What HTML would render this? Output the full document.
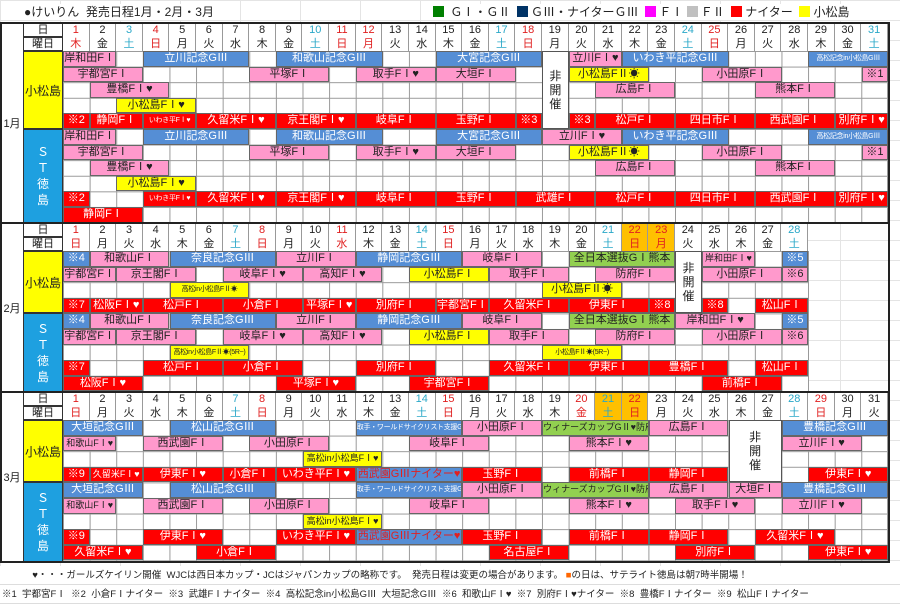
<!DOCTYPE html>
<html><head><meta charset="utf-8">
<style>
*{margin:0;padding:0}
body{width:900px;height:611px;position:relative;background:#fff;overflow:hidden;font-family:"Liberation Sans","Noto Sans CJK JP",sans-serif;color:#222}
.bg{position:absolute;left:0;top:0;width:900px;height:611px;background-image:linear-gradient(to right,#e4e4e4 1px,transparent 1px),linear-gradient(to bottom,#e4e4e4 1px,transparent 1px);background-size:60px 20px}
.grid{position:absolute;background-color:#fff;background-image:linear-gradient(to right,#999 1px,transparent 1px),linear-gradient(to bottom,#999 1px,transparent 1px);background-size:26.62px 15.6px;border-right:1px solid #999;border-bottom:1px solid #999;box-sizing:border-box}
.b{position:absolute;height:15.6px;box-sizing:border-box;border:1px solid #666;font-size:11px;line-height:13.6px;text-align:center;white-space:nowrap;overflow:hidden}
.p{background:#ff99cc;color:#222}
.u{background:#558ed5;color:#fff}
.r{background:#ff0000;color:#fff}
.y{background:#ffff00;color:#222}
.g{background:#92d050;color:#222}
.w{background:#fff}
.s{font-size:7px;letter-spacing:-0.3px}
.s9{font-size:9px}
.hd{position:absolute;left:63px;height:14px;display:flex;font-size:11px;line-height:14px;background:#fff}
.hd span{width:26.62px;flex:none;text-align:center;box-sizing:border-box;border-right:1px solid #999}
.R{color:#e02020}.B{color:#2aa8c8}.O{background:#ffc000}
.lab{position:absolute;left:23px;width:40px;font-size:11px;text-align:center;background:#fff;box-sizing:border-box;border:1px solid #333;height:14px;line-height:13px}
.ven{position:absolute;left:23px;width:40px;box-sizing:border-box;border:1px solid #333;display:flex;align-items:center;justify-content:center;font-size:12px;text-align:center}
.ko{background:#ffff00;color:#222}
.st{background:#1ea0e0;color:#fff;line-height:16px;font-size:12px}
.mon{position:absolute;left:0;width:23px;font-size:11px;text-align:center;border:1px solid #333;box-sizing:border-box;border-right:none;background:#fff;display:flex;align-items:center;justify-content:center}
.nk{position:absolute;background:#fff;border:1px solid #555;box-sizing:border-box;font-size:12px;line-height:14px;display:flex;align-items:center;justify-content:center;text-align:center}
.frame{position:absolute;border:2px solid #222;box-sizing:border-box;pointer-events:none}
.leg{position:absolute;top:4px;font-size:12px;line-height:16px;white-space:nowrap}
.sq{display:inline-block;width:11px;height:11px;vertical-align:-1px;margin-right:3px}
</style></head><body>
<div class="bg"></div>

<div style="position:absolute;left:24px;top:4px;font-size:12px;line-height:16px;background:#fff">●けいりん&nbsp; 発売日程1月・2月・3月</div>
<div class="leg" style="left:433px;background:#fff;width:450px"><span class="sq" style="background:#008000"></span>&nbsp;ＧⅠ・ＧⅡ&nbsp;&nbsp;<span class="sq" style="background:#003366"></span>ＧⅢ・ナイターＧⅢ&nbsp;&nbsp;<span class="sq" style="background:#ff00ff"></span>ＦⅠ <span class="sq" style="background:#c0c0c0"></span>ＦⅡ&nbsp;&nbsp;<span class="sq" style="background:#ff0000"></span>ナイター&nbsp;&nbsp;<span class="sq" style="background:#ffff00"></span>小松島</div>

<!-- ===== JANUARY ===== -->
<div class="mon" style="top:23px;height:200px">1月</div>
<div class="lab" style="top:23px">日</div>
<div class="lab" style="top:37px">曜日</div>
<div class="hd" style="top:23px"><span class="R">1</span><span>2</span><span class="B">3</span><span class="R">4</span><span>5</span><span>6</span><span>7</span><span>8</span><span>9</span><span class="B">10</span><span class="R">11</span><span class="R">12</span><span>13</span><span>14</span><span>15</span><span>16</span><span class="B">17</span><span class="R">18</span><span>19</span><span>20</span><span>21</span><span>22</span><span>23</span><span class="B">24</span><span class="R">25</span><span>26</span><span>27</span><span>28</span><span>29</span><span>30</span><span class="B">31</span></div>
<div class="hd" style="top:37px"><span class="R">木</span><span>金</span><span class="B">土</span><span class="R">日</span><span>月</span><span>火</span><span>水</span><span>木</span><span>金</span><span class="B">土</span><span class="R">日</span><span class="R">月</span><span>火</span><span>水</span><span>木</span><span>金</span><span class="B">土</span><span class="R">日</span><span>月</span><span>火</span><span>水</span><span>木</span><span>金</span><span class="B">土</span><span class="R">日</span><span>月</span><span>火</span><span>水</span><span>木</span><span>金</span><span class="B">土</span></div>
<div class="ven ko" style="top:51px;height:78px">小松島</div>
<div class="ven st" style="top:129px;height:94px">Ｓ<br>Ｔ<br>徳<br>島</div>
<div class="grid" style="left:63px;top:51px;width:825.3px;height:172px"></div>

<div class="b p" style="left:63px;top:51px;width:53.3px">岸和田FⅠ</div>
<div class="b u" style="left:142.9px;top:51px;width:106.5px">立川記念GⅢ</div>
<div class="b u" style="left:276px;top:51px;width:106.5px">和歌山記念GⅢ</div>
<div class="b u" style="left:435.7px;top:51px;width:106.5px">大宮記念GⅢ</div>
<div class="b p" style="left:568.8px;top:51px;width:53.3px">立川FⅠ♥</div>
<div class="b u" style="left:622px;top:51px;width:106.5px">いわき平記念GⅢ</div>
<div class="b u s" style="left:808.3px;top:51px;width:79.9px">高松記念in小松島GⅢ</div>
<div class="b p" style="left:63px;top:66.6px;width:79.9px">宇都宮FⅠ</div>
<div class="b p" style="left:249.3px;top:66.6px;width:79.9px">平塚FⅠ</div>
<div class="b p" style="left:355.8px;top:66.6px;width:79.9px">取手FⅠ♥</div>
<div class="b p" style="left:435.7px;top:66.6px;width:79.9px">大垣FⅠ</div>
<div class="b y" style="left:568.8px;top:66.6px;width:79.9px">小松島FⅡ☀</div>
<div class="b p" style="left:701.8px;top:66.6px;width:79.9px">小田原FⅠ</div>
<div class="b p" style="left:861.6px;top:66.6px;width:26.6px">※1</div>
<div class="b p" style="left:89.6px;top:82.2px;width:79.9px">豊橋FⅠ♥</div>
<div class="b p" style="left:595.4px;top:82.2px;width:79.9px">広島FⅠ</div>
<div class="b p" style="left:755px;top:82.2px;width:79.9px">熊本FⅠ</div>
<div class="b y" style="left:116.2px;top:97.8px;width:79.9px">小松島FⅠ♥</div>
<div class="b r" style="left:63px;top:113.4px;width:26.6px">※2</div>
<div class="b r" style="left:89.6px;top:113.4px;width:53.3px">静岡FⅠ</div>
<div class="b r s" style="left:142.9px;top:113.4px;width:53.3px">いわき平FⅠ♥</div>
<div class="b r" style="left:196.1px;top:113.4px;width:79.9px">久留米FⅠ♥</div>
<div class="b r" style="left:276px;top:113.4px;width:79.9px">京王閣FⅠ♥</div>
<div class="b r" style="left:355.8px;top:113.4px;width:79.9px">岐阜FⅠ</div>
<div class="b r" style="left:435.7px;top:113.4px;width:79.9px">玉野FⅠ</div>
<div class="b r" style="left:515.5px;top:113.4px;width:26.6px">※3</div>
<div class="b r" style="left:568.8px;top:113.4px;width:26.6px">※3</div>
<div class="b r" style="left:595.4px;top:113.4px;width:79.9px">松戸FⅠ</div>
<div class="b r" style="left:675.2px;top:113.4px;width:79.9px">四日市FⅠ</div>
<div class="b r" style="left:755px;top:113.4px;width:79.9px">西武園FⅠ</div>
<div class="b r" style="left:835px;top:113.4px;width:53.3px">別府FⅠ♥</div>
<div class="nk" style="left:542.1px;top:51px;width:26.7px;height:78px">非<br>開<br>催</div>

<div class="b p" style="left:63px;top:129px;width:53.3px">岸和田FⅠ</div>
<div class="b u" style="left:142.9px;top:129px;width:106.5px">立川記念GⅢ</div>
<div class="b u" style="left:276px;top:129px;width:106.5px">和歌山記念GⅢ</div>
<div class="b u" style="left:435.7px;top:129px;width:106.5px">大宮記念GⅢ</div>
<div class="b p" style="left:542.1px;top:129px;width:79.9px">立川FⅠ♥</div>
<div class="b u" style="left:622px;top:129px;width:106.5px">いわき平記念GⅢ</div>
<div class="b u s" style="left:808.3px;top:129px;width:79.9px">高松記念in小松島GⅢ</div>
<div class="b p" style="left:63px;top:144.6px;width:79.9px">宇都宮FⅠ</div>
<div class="b p" style="left:249.3px;top:144.6px;width:79.9px">平塚FⅠ</div>
<div class="b p" style="left:355.8px;top:144.6px;width:79.9px">取手FⅠ♥</div>
<div class="b p" style="left:435.7px;top:144.6px;width:79.9px">大垣FⅠ</div>
<div class="b y" style="left:568.8px;top:144.6px;width:79.9px">小松島FⅡ☀</div>
<div class="b p" style="left:701.8px;top:144.6px;width:79.9px">小田原FⅠ</div>
<div class="b p" style="left:861.6px;top:144.6px;width:26.6px">※1</div>
<div class="b p" style="left:89.6px;top:160.2px;width:79.9px">豊橋FⅠ♥</div>
<div class="b p" style="left:595.4px;top:160.2px;width:79.9px">広島FⅠ</div>
<div class="b p" style="left:755px;top:160.2px;width:79.9px">熊本FⅠ</div>
<div class="b y" style="left:116.2px;top:175.8px;width:79.9px">小松島FⅠ♥</div>
<div class="b r" style="left:63px;top:191.4px;width:26.6px">※2</div>
<div class="b r s" style="left:142.9px;top:191.4px;width:53.3px">いわき平FⅠ♥</div>
<div class="b r" style="left:196.1px;top:191.4px;width:79.9px">久留米FⅠ♥</div>
<div class="b r" style="left:276px;top:191.4px;width:79.9px">京王閣FⅠ♥</div>
<div class="b r" style="left:355.8px;top:191.4px;width:79.9px">岐阜FⅠ</div>
<div class="b r" style="left:435.7px;top:191.4px;width:79.9px">玉野FⅠ</div>
<div class="b r" style="left:515.5px;top:191.4px;width:79.9px">武雄FⅠ</div>
<div class="b r" style="left:595.4px;top:191.4px;width:79.9px">松戸FⅠ</div>
<div class="b r" style="left:675.2px;top:191.4px;width:79.9px">四日市FⅠ</div>
<div class="b r" style="left:755px;top:191.4px;width:79.9px">西武園FⅠ</div>
<div class="b r" style="left:835px;top:191.4px;width:53.3px">別府FⅠ♥</div>
<div class="b r" style="left:63px;top:207px;width:79.9px">静岡FⅠ</div>
<div class="frame" style="left:0;top:22px;width:890px;height:202px"></div>

<!-- ===== FEBRUARY ===== -->
<div class="mon" style="top:223px;height:169px">2月</div>
<div class="lab" style="top:223px">日</div>
<div class="lab" style="top:237px">曜日</div>
<div class="hd" style="top:223px"><span class="R">1</span><span>2</span><span>3</span><span>4</span><span>5</span><span>6</span><span class="B">7</span><span class="R">8</span><span>9</span><span>10</span><span class="R">11</span><span>12</span><span>13</span><span class="B">14</span><span class="R">15</span><span>16</span><span>17</span><span>18</span><span>19</span><span>20</span><span class="B">21</span><span class="R O">22</span><span class="R O">23</span><span>24</span><span>25</span><span>26</span><span>27</span><span class="B">28</span></div>
<div class="hd" style="top:237px"><span class="R">日</span><span>月</span><span>火</span><span>水</span><span>木</span><span>金</span><span class="B">土</span><span class="R">日</span><span>月</span><span>火</span><span class="R">水</span><span>木</span><span>金</span><span class="B">土</span><span class="R">日</span><span>月</span><span>火</span><span>水</span><span>木</span><span>金</span><span class="B">土</span><span class="R O">日</span><span class="R O">月</span><span>火</span><span>水</span><span>木</span><span>金</span><span class="B">土</span></div>
<div class="ven ko" style="top:251px;height:62.4px">小松島</div>
<div class="ven st" style="top:313.4px;height:78.6px">Ｓ<br>Ｔ<br>徳<br>島</div>
<div class="grid" style="left:63px;top:251px;width:746.3px;height:141px"></div>

<div class="b u" style="left:63px;top:251px;width:26.6px">※4</div>
<div class="b p" style="left:89.6px;top:251px;width:79.9px">和歌山FⅠ</div>
<div class="b u" style="left:169.5px;top:251px;width:106.5px">奈良記念GⅢ</div>
<div class="b p" style="left:276px;top:251px;width:79.9px">立川FⅠ</div>
<div class="b u" style="left:355.8px;top:251px;width:106.5px">静岡記念GⅢ</div>
<div class="b p" style="left:462.3px;top:251px;width:79.9px">岐阜FⅠ</div>
<div class="b g" style="left:568.8px;top:251px;width:106.5px">全日本選抜GⅠ熊本</div>
<div class="b p s9" style="left:701.8px;top:251px;width:53.3px">岸和田FⅠ♥</div>
<div class="b u" style="left:781.7px;top:251px;width:26.6px">※5</div>
<div class="b p" style="left:63px;top:266.6px;width:53.3px">宇都宮FⅠ</div>
<div class="b p" style="left:116.2px;top:266.6px;width:79.9px">京王閣FⅠ</div>
<div class="b p" style="left:222.7px;top:266.6px;width:79.9px">岐阜FⅠ♥</div>
<div class="b p" style="left:302.6px;top:266.6px;width:79.9px">高知FⅠ♥</div>
<div class="b y" style="left:409px;top:266.6px;width:79.9px">小松島FⅠ</div>
<div class="b p" style="left:488.9px;top:266.6px;width:79.9px">取手FⅠ</div>
<div class="b p" style="left:595.4px;top:266.6px;width:79.9px">防府FⅠ</div>
<div class="b p" style="left:701.8px;top:266.6px;width:79.9px">小田原FⅠ</div>
<div class="b p" style="left:781.7px;top:266.6px;width:26.6px">※6</div>
<div class="b y s" style="left:169.5px;top:282.2px;width:79.9px">高松in小松島FⅡ☀</div>
<div class="b y" style="left:542.1px;top:282.2px;width:79.9px">小松島FⅡ☀</div>
<div class="b r" style="left:63px;top:297.8px;width:26.6px">※7</div>
<div class="b r" style="left:89.6px;top:297.8px;width:53.3px">松阪FⅠ♥</div>
<div class="b r" style="left:142.9px;top:297.8px;width:79.9px">松戸FⅠ</div>
<div class="b r" style="left:222.7px;top:297.8px;width:79.9px">小倉FⅠ</div>
<div class="b r" style="left:302.6px;top:297.8px;width:53.3px">平塚FⅠ♥</div>
<div class="b r" style="left:355.8px;top:297.8px;width:79.9px">別府FⅠ</div>
<div class="b r" style="left:435.7px;top:297.8px;width:53.3px">宇都宮FⅠ</div>
<div class="b r" style="left:488.9px;top:297.8px;width:79.9px">久留米FⅠ</div>
<div class="b r" style="left:568.8px;top:297.8px;width:79.9px">伊東FⅠ</div>
<div class="b r" style="left:648.6px;top:297.8px;width:26.6px">※8</div>
<div class="b r" style="left:701.8px;top:297.8px;width:26.6px">※8</div>
<div class="b r" style="left:755px;top:297.8px;width:53.3px">松山FⅠ</div>
<div class="nk" style="left:675.2px;top:251px;width:26.7px;height:62.4px">非<br>開<br>催</div>

<div class="b u" style="left:63px;top:313.4px;width:26.6px">※4</div>
<div class="b p" style="left:89.6px;top:313.4px;width:79.9px">和歌山FⅠ</div>
<div class="b u" style="left:169.5px;top:313.4px;width:106.5px">奈良記念GⅢ</div>
<div class="b p" style="left:276px;top:313.4px;width:79.9px">立川FⅠ</div>
<div class="b u" style="left:355.8px;top:313.4px;width:106.5px">静岡記念GⅢ</div>
<div class="b p" style="left:462.3px;top:313.4px;width:79.9px">岐阜FⅠ</div>
<div class="b g" style="left:568.8px;top:313.4px;width:106.5px">全日本選抜GⅠ熊本</div>
<div class="b p" style="left:675.2px;top:313.4px;width:79.9px">岸和田FⅠ♥</div>
<div class="b u" style="left:781.7px;top:313.4px;width:26.6px">※5</div>
<div class="b p" style="left:63px;top:329px;width:53.3px">宇都宮FⅠ</div>
<div class="b p" style="left:116.2px;top:329px;width:79.9px">京王閣FⅠ</div>
<div class="b p" style="left:222.7px;top:329px;width:79.9px">岐阜FⅠ♥</div>
<div class="b p" style="left:302.6px;top:329px;width:79.9px">高知FⅠ♥</div>
<div class="b y" style="left:409px;top:329px;width:79.9px">小松島FⅠ</div>
<div class="b p" style="left:488.9px;top:329px;width:79.9px">取手FⅠ</div>
<div class="b p" style="left:595.4px;top:329px;width:79.9px">防府FⅠ</div>
<div class="b p" style="left:701.8px;top:329px;width:79.9px">小田原FⅠ</div>
<div class="b p" style="left:781.7px;top:329px;width:26.6px">※6</div>
<div class="b y s" style="left:169.5px;top:344.6px;width:79.9px">高松in小松島FⅡ☀(5R~)</div>
<div class="b y s" style="left:542.1px;top:344.6px;width:79.9px">小松島FⅡ☀(5R~)</div>
<div class="b r" style="left:63px;top:360.2px;width:26.6px">※7</div>
<div class="b r" style="left:142.9px;top:360.2px;width:79.9px">松戸FⅠ</div>
<div class="b r" style="left:222.7px;top:360.2px;width:79.9px">小倉FⅠ</div>
<div class="b r" style="left:355.8px;top:360.2px;width:79.9px">別府FⅠ</div>
<div class="b r" style="left:488.9px;top:360.2px;width:79.9px">久留米FⅠ</div>
<div class="b r" style="left:568.8px;top:360.2px;width:79.9px">伊東FⅠ</div>
<div class="b r" style="left:648.6px;top:360.2px;width:79.9px">豊橋FⅠ</div>
<div class="b r" style="left:755px;top:360.2px;width:53.3px">松山FⅠ</div>
<div class="b r" style="left:63px;top:375.8px;width:79.9px">松阪FⅠ♥</div>
<div class="b r" style="left:276px;top:375.8px;width:79.9px">平塚FⅠ♥</div>
<div class="b r" style="left:409px;top:375.8px;width:79.9px">宇都宮FⅠ</div>
<div class="b r" style="left:701.8px;top:375.8px;width:79.9px">前橋FⅠ</div>
<div class="frame" style="left:0;top:222px;width:890px;height:171px"></div>

<!-- ===== MARCH ===== -->
<div class="mon" style="top:392px;height:170px">3月</div>
<div class="lab" style="top:392px">日</div>
<div class="lab" style="top:406px">曜日</div>
<div class="hd" style="top:392px"><span class="R">1</span><span>2</span><span>3</span><span>4</span><span>5</span><span>6</span><span class="B">7</span><span class="R">8</span><span>9</span><span>10</span><span>11</span><span>12</span><span>13</span><span class="B">14</span><span class="R">15</span><span>16</span><span>17</span><span>18</span><span>19</span><span class="R">20</span><span class="B O">21</span><span class="R O">22</span><span>23</span><span>24</span><span>25</span><span>26</span><span>27</span><span class="B">28</span><span class="R">29</span><span>30</span><span>31</span></div>
<div class="hd" style="top:406px"><span class="R">日</span><span>月</span><span>火</span><span>水</span><span>木</span><span>金</span><span class="B">土</span><span class="R">日</span><span>月</span><span>火</span><span>水</span><span>木</span><span>金</span><span class="B">土</span><span class="R">日</span><span>月</span><span>火</span><span>水</span><span>木</span><span class="R">金</span><span class="B O">土</span><span class="R O">日</span><span>月</span><span>火</span><span>水</span><span>木</span><span>金</span><span class="B">土</span><span class="R">日</span><span>月</span><span>火</span></div>
<div class="ven ko" style="top:420px;height:62.4px">小松島</div>
<div class="ven st" style="top:482.4px;height:79.6px">Ｓ<br>Ｔ<br>徳<br>島</div>
<div class="grid" style="left:63px;top:420px;width:825.3px;height:142px"></div>

<div class="b u" style="left:63px;top:420px;width:79.9px">大垣記念GⅢ</div>
<div class="b u" style="left:169.5px;top:420px;width:106.5px">松山記念GⅢ</div>
<div class="b u s" style="left:355.8px;top:420px;width:106.5px">取手・ワールドサイクリスト支援GⅢ</div>
<div class="b p" style="left:462.3px;top:420px;width:79.9px">小田原FⅠ</div>
<div class="b g s9" style="left:542.1px;top:420px;width:106.5px">ウィナーズカップGⅡ♥防府</div>
<div class="b p" style="left:648.6px;top:420px;width:79.9px">広島FⅠ</div>
<div class="b u" style="left:781.7px;top:420px;width:106.5px">豊橋記念GⅢ</div>
<div class="b p s9" style="left:63px;top:435.6px;width:53.3px">和歌山FⅠ♥</div>
<div class="b p" style="left:142.9px;top:435.6px;width:79.9px">西武園FⅠ</div>
<div class="b p" style="left:249.3px;top:435.6px;width:79.9px">小田原FⅠ</div>
<div class="b p" style="left:409px;top:435.6px;width:79.9px">岐阜FⅠ</div>
<div class="b p" style="left:568.8px;top:435.6px;width:79.9px">熊本FⅠ♥</div>
<div class="b p" style="left:781.7px;top:435.6px;width:79.9px">立川FⅠ♥</div>
<div class="b y s9" style="left:302.6px;top:451.2px;width:79.9px">高松in小松島FⅠ♥</div>
<div class="b r" style="left:63px;top:466.8px;width:26.6px">※9</div>
<div class="b r s9" style="left:89.6px;top:466.8px;width:53.3px">久留米FⅠ♥</div>
<div class="b r" style="left:142.9px;top:466.8px;width:79.9px">伊東FⅠ♥</div>
<div class="b r" style="left:222.7px;top:466.8px;width:53.3px">小倉FⅠ</div>
<div class="b r" style="left:276px;top:466.8px;width:79.9px">いわき平FⅠ♥</div>
<div class="b u" style="left:355.8px;top:466.8px;width:106.5px;color:#e02020">西武園GⅢナイター♥</div>
<div class="b r" style="left:462.3px;top:466.8px;width:79.9px">玉野FⅠ</div>
<div class="b r" style="left:568.8px;top:466.8px;width:79.9px">前橋FⅠ</div>
<div class="b r" style="left:648.6px;top:466.8px;width:79.9px">静岡FⅠ</div>
<div class="b r" style="left:808.3px;top:466.8px;width:79.9px">伊東FⅠ♥</div>
<div class="nk" style="left:728.5px;top:420px;width:53.2px;height:62.4px">非<br>開<br>催</div>

<div class="b u" style="left:63px;top:482.4px;width:79.9px">大垣記念GⅢ</div>
<div class="b u" style="left:169.5px;top:482.4px;width:106.5px">松山記念GⅢ</div>
<div class="b u s" style="left:355.8px;top:482.4px;width:106.5px">取手・ワールドサイクリスト支援GⅢ</div>
<div class="b p" style="left:462.3px;top:482.4px;width:79.9px">小田原FⅠ</div>
<div class="b g s9" style="left:542.1px;top:482.4px;width:106.5px">ウィナーズカップGⅡ♥防府</div>
<div class="b p" style="left:648.6px;top:482.4px;width:79.9px">広島FⅠ</div>
<div class="b p" style="left:728.5px;top:482.4px;width:53.3px">大垣FⅠ</div>
<div class="b u" style="left:781.7px;top:482.4px;width:106.5px">豊橋記念GⅢ</div>
<div class="b p s9" style="left:63px;top:498px;width:53.3px">和歌山FⅠ♥</div>
<div class="b p" style="left:142.9px;top:498px;width:79.9px">西武園FⅠ</div>
<div class="b p" style="left:249.3px;top:498px;width:79.9px">小田原FⅠ</div>
<div class="b p" style="left:409px;top:498px;width:79.9px">岐阜FⅠ</div>
<div class="b p" style="left:568.8px;top:498px;width:79.9px">熊本FⅠ♥</div>
<div class="b p" style="left:675.2px;top:498px;width:79.9px">取手FⅠ♥</div>
<div class="b p" style="left:781.7px;top:498px;width:79.9px">立川FⅠ♥</div>
<div class="b y s9" style="left:302.6px;top:513.6px;width:79.9px">高松in小松島FⅠ♥</div>
<div class="b r" style="left:63px;top:529.2px;width:26.6px">※9</div>
<div class="b r" style="left:142.9px;top:529.2px;width:79.9px">伊東FⅠ♥</div>
<div class="b r" style="left:276px;top:529.2px;width:79.9px">いわき平FⅠ♥</div>
<div class="b u" style="left:355.8px;top:529.2px;width:106.5px;color:#e02020">西武園GⅢナイター♥</div>
<div class="b r" style="left:462.3px;top:529.2px;width:79.9px">玉野FⅠ</div>
<div class="b r" style="left:568.8px;top:529.2px;width:79.9px">前橋FⅠ</div>
<div class="b r" style="left:648.6px;top:529.2px;width:79.9px">静岡FⅠ</div>
<div class="b r" style="left:755px;top:529.2px;width:79.9px">久留米FⅠ♥</div>
<div class="b r" style="left:63px;top:544.8px;width:79.9px">久留米FⅠ♥</div>
<div class="b r" style="left:196.1px;top:544.8px;width:79.9px">小倉FⅠ</div>
<div class="b r" style="left:488.9px;top:544.8px;width:79.9px">名古屋FⅠ</div>
<div class="b r" style="left:675.2px;top:544.8px;width:79.9px">別府FⅠ</div>
<div class="b r" style="left:808.3px;top:544.8px;width:79.9px">伊東FⅠ♥</div>
<div class="frame" style="left:0;top:391px;width:890px;height:172px"></div>

<div style="position:absolute;left:0;top:566px;width:900px;height:45px;background:#fff"></div>
<div style="position:absolute;left:30px;top:569px;width:720px;text-align:center;font-size:9.5px;line-height:14px;white-space:nowrap">♥・・・ガールズケイリン開催&nbsp; WJCは西日本カップ・JCはジャパンカップの略称です。&nbsp; 発売日程は変更の場合があります。&nbsp;<span style="color:#ff6600">■</span>の日は、サテライト徳島は朝7時半開場！</div>
<div style="position:absolute;left:0;top:584px;width:900px;border-top:1px solid #ddd"></div>
<div style="position:absolute;left:2px;top:588px;font-size:9.5px;line-height:14px;white-space:nowrap">※1&nbsp; 宇都宮FⅠ&nbsp; ※2&nbsp; 小倉FⅠナイター&nbsp; ※3&nbsp; 武雄FⅠナイター&nbsp; ※4&nbsp; 高松記念in小松島GⅢ&nbsp; 大垣記念GⅢ&nbsp; ※6&nbsp; 和歌山FⅠ♥&nbsp; ※7&nbsp; 別府FⅠ♥ナイター&nbsp; ※8&nbsp; 豊橋FⅠナイター&nbsp; ※9&nbsp; 松山FⅠナイター</div>
<div style="position:absolute;left:0;top:603px;width:900px;border-top:1px solid #ddd"></div>
</body></html>
